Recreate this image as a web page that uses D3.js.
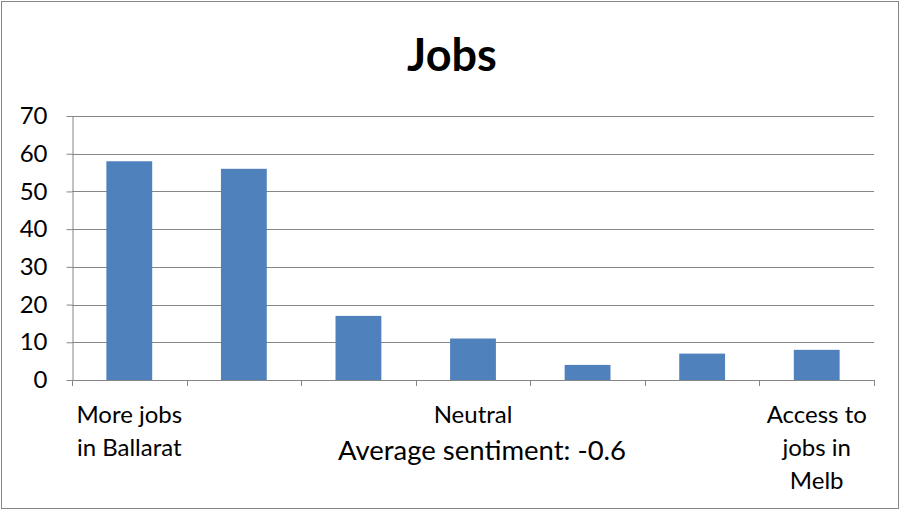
<!DOCTYPE html>
<html>
<head>
<meta charset="utf-8">
<script src="https://cdn.jsdelivr.net/npm/d3@7"></script>
<style>
  body { margin: 0; background: #fff; }
  svg { display: block; font-family: Lato, "Open Sans", sans-serif; }
</style>
</head>
<body>
<div id="chart"></div>
<script>
// data
const categories = ["c1", "c2", "c3", "c4", "c5", "c6", "c7"];
const catLabels = [["More jobs", "in Ballarat"], [], [], ["Neutral"], [], [], ["Access to", "jobs in", "Melb"]];
const counts = [58, 56, 17, 11, 4, 7, 8];
const yTicks = [0, 10, 20, 30, 40, 50, 60, 70];
const chartTitle = "Jobs";
const axisTitle = "Average sentiment: -0.6";

const width = 901, height = 512;
const margin = {top: 116, right: 27, bottom: 132, left: 72};
const grey = "#868686";

const svg = d3.select("#chart").append("svg")
    .attr("width", width)
    .attr("height", height);

// outer chart border
svg.append("rect")
    .attr("x", 1.5).attr("y", 1.5)
    .attr("width", width - 4).attr("height", height - 5)
    .attr("fill", "none")
    .attr("stroke", grey);

const x = d3.scaleBand()
    .domain(categories)
    .range([margin.left, width - margin.right])
    .paddingInner(0.6)
    .paddingOuter(0.3);

const y = d3.scaleLinear()
    .domain([0, 70])
    .range([height - margin.bottom, margin.top]);

// gridlines
svg.append("g")
    .selectAll("line")
    .data(yTicks.slice(1))
    .join("line")
    .attr("x1", margin.left).attr("x2", width - margin.right)
    .attr("y1", d => Math.round(y(d)) + 0.5).attr("y2", d => Math.round(y(d)) + 0.5)
    .attr("stroke", grey);

// bars
svg.append("g")
    .selectAll("rect")
    .data(counts)
    .join("rect")
    .attr("x", (d, i) => x(categories[i]))
    .attr("y", d => y(d))
    .attr("width", x.bandwidth())
    .attr("height", d => y(0) - y(d))
    .attr("fill", "#4f81bd");

// y axis
const yAxis = svg.append("g")
    .attr("transform", `translate(${margin.left + 0.5},0)`)
    .call(d3.axisLeft(y).tickValues(yTicks).tickSize(6).tickPadding(8).tickSizeOuter(0));
yAxis.select(".domain").attr("stroke", grey);
yAxis.selectAll(".tick line").attr("stroke", grey);
yAxis.selectAll(".tick text")
    .attr("font-family", "Lato, sans-serif")
    .attr("font-size", 24)
    .attr("fill", "#000")
    .attr("dx", -11);

// x axis: ticks between categories
const bounds = d3.range(categories.length + 1).map(i => margin.left + i * (width - margin.left - margin.right) / categories.length);
const xg = svg.append("g");
xg.append("line")
    .attr("x1", margin.left).attr("x2", width - margin.right)
    .attr("y1", y(0) + 0.5).attr("y2", y(0) + 0.5)
    .attr("stroke", grey);
xg.selectAll("line.tk")
    .data(bounds)
    .join("line")
    .attr("class", "tk")
    .attr("x1", d => Math.round(d) + 0.5).attr("x2", d => Math.round(d) + 0.5)
    .attr("y1", y(0)).attr("y2", y(0) + 6)
    .attr("stroke", grey);

// category labels
const lab = svg.append("g")
    .attr("font-size", 24)
    .attr("text-anchor", "middle")
    .attr("fill", "#000");
categories.forEach((c, i) => {
    const cx = x(c) + x.bandwidth() / 2;
    catLabels[i].forEach((t, j) => {
        lab.append("text")
            .attr("x", cx)
            .attr("y", 423 + j * 33)
            .text(t);
    });
});

// axis title
svg.append("text")
    .attr("x", 482)
    .attr("y", 460)
    .attr("text-anchor", "middle")
    .attr("font-size", 27.5)
    .attr("fill", "#000")
    .text(axisTitle);

// chart title
svg.append("text")
    .attr("x", 452)
    .attr("y", 71)
    .attr("text-anchor", "middle")
    .attr("font-size", 45)
    .attr("font-weight", "bold")
    .attr("fill", "#000")
    .text(chartTitle);
</script>
</body>
</html>
